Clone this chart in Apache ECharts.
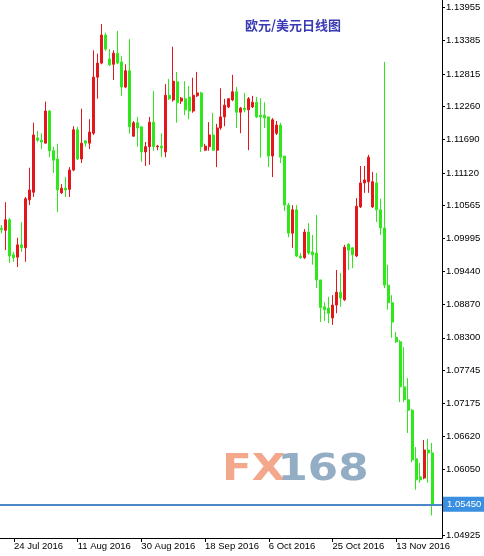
<!DOCTYPE html>
<html>
<head>
<meta charset="utf-8">
<style>
  html, body { margin: 0; padding: 0; background: #ffffff; }
  #chart { width: 484px; height: 556px; }
</style>
<script src="https://cdn.jsdelivr.net/npm/echarts@6/dist/echarts.min.js"></script>
</head>
<body>
<div id="chart"></div>
<script>
// ---- Data (EUR/USD daily) ----
const startDate = '2016-07-20'; // first bar (partial at left edge); broker shows Sunday bars, no Saturdays
const opens = [
  1.1017,1.1014,1.1032,1.0972,1.0968,1.0989,1.0984,1.1066,1.1079,1.1172,
  1.1168,1.1163,1.1218,1.1150,1.1136,1.1078,1.1086,1.1084,1.1117,1.1186,
  1.1136,1.1167,1.1163,1.1180,1.1276,1.1300,1.1348,1.1307,1.1298,1.1317,
  1.1302,1.1259,1.1287,1.1175,1.1198,1.1191,1.1148,1.1157,1.1199,1.1157,
  1.1158,1.1148,1.1245,1.1237,1.1268,1.1235,1.1239,1.1242,1.1218,1.1244,
  1.1249,1.1151,1.1157,1.1177,1.1151,1.1189,1.1208,1.1225,1.1237,1.1251,
  1.1216,1.1223,1.1220,1.1225,1.1233,1.1211,1.1211,1.1208,1.1141,1.1180,
  1.1194,1.1141,1.1057,1.1009,1.1049,1.0970,1.0967,1.1011,1.0977,1.0975,
  1.0929,1.0883,1.0881,1.0864,1.0886,1.0908,1.0895,1.0990,1.0984,1.0970,
  1.1054,1.1095,1.1097,1.1054,1.1095,1.1049,1.1018,1.0920,1.0890,1.0831,
  1.0823,1.0746,1.0724,1.0706,1.0623,1.0592,1.0590,1.0638,1.0633
];
const closes = [
  1.1015,1.1032,1.0970,1.0967,1.0989,1.0984,1.1068,1.1083,1.1177,1.1168,
  1.1165,1.1218,1.1150,1.1134,1.1083,1.1086,1.1083,1.1117,1.1186,1.1136,
  1.1163,1.1163,1.1182,1.1276,1.1300,1.1348,1.1324,1.1297,1.1317,1.1300,
  1.1259,1.1287,1.1191,1.1198,1.1189,1.1148,1.1157,1.1199,1.1157,1.1158,
  1.1155,1.1245,1.1239,1.1269,1.1232,1.1240,1.1220,1.1218,1.1245,1.1249,
  1.1157,1.1158,1.1177,1.1151,1.1189,1.1208,1.1228,1.1239,1.1251,1.1216,
  1.1223,1.1220,1.1239,1.1233,1.1208,1.1208,1.1206,1.1141,1.1203,1.1194,
  1.1139,1.1057,1.1009,1.1049,1.0970,1.0967,1.1011,1.0975,1.0972,1.0929,
  1.0882,1.0878,1.0872,1.0886,1.0908,1.0898,1.0985,1.0980,1.0972,1.1055,
  1.1095,1.1100,1.1139,1.1097,1.1049,1.1018,1.0920,1.0890,1.0857,1.0823,
  1.0746,1.0724,1.0706,1.0621,1.0587,1.0587,1.0638,1.0633,1.0545
];
const lows = [
  1.1009,1.0980,1.0958,1.0960,1.0951,1.0977,1.0960,1.1057,1.1071,1.1165,
  1.1153,1.1163,1.1139,1.1112,1.1045,1.1076,1.1071,1.1071,1.1115,1.1134,
  1.1129,1.1157,1.1153,1.1177,1.1239,1.1298,1.1321,1.1295,1.1271,1.1298,
  1.1244,1.1257,1.1179,1.1174,1.1157,1.1131,1.1124,1.1126,1.1150,1.1151,
  1.1139,1.1139,1.1237,1.1234,1.1198,1.1230,1.1211,1.1204,1.1215,1.1242,
  1.1148,1.1150,1.1150,1.1150,1.1122,1.1186,1.1192,1.1223,1.1235,1.1189,
  1.1180,1.1216,1.1151,1.1223,1.1206,1.1138,1.1189,1.1122,1.1105,1.1177,
  1.1129,1.1047,1.1002,1.0984,1.0968,1.0965,1.0965,1.0972,1.0955,1.0915,
  1.0857,1.0859,1.0855,1.0852,1.0872,1.0883,1.0893,1.0946,1.0949,1.0968,
  1.1052,1.1078,1.1078,1.1052,1.1028,1.1006,1.0915,1.0878,1.0830,1.0821,
  1.0720,1.0720,1.0667,1.0617,1.0570,1.0582,1.0588,1.0582,1.0526
];
const highs = [
  1.1023,1.1062,1.1035,1.0977,1.1001,1.1028,1.1071,1.1121,1.1198,1.1184,
  1.1180,1.1234,1.1220,1.1157,1.1162,1.1093,1.1105,1.1122,1.1192,1.1191,
  1.1222,1.1168,1.1204,1.1322,1.1316,1.1367,1.1352,1.1324,1.1322,1.1355,
  1.1312,1.1298,1.1341,1.1201,1.1208,1.1192,1.1165,1.1208,1.1252,1.1160,
  1.1180,1.1264,1.1273,1.1328,1.1285,1.1242,1.1269,1.1261,1.1275,1.1285,
  1.1251,1.1162,1.1199,1.1215,1.1196,1.1257,1.1239,1.1240,1.1280,1.1259,
  1.1225,1.1249,1.1242,1.1244,1.1242,1.1240,1.1233,1.1208,1.1206,1.1201,
  1.1198,1.1141,1.1061,1.1057,1.1057,1.0975,1.1016,1.1026,1.1006,1.1040,
  1.0929,1.0891,1.0900,1.0903,1.0946,1.0941,1.0989,1.0992,1.0985,1.1069,
  1.1124,1.1124,1.1143,1.1114,1.1112,1.1068,1.1302,1.0955,1.0903,1.0840,
  1.0826,1.0814,1.0761,1.0708,1.0643,1.0616,1.0655,1.0657,1.0650
];
const currentPrice = 1.05450;
const yTickValues = [1.04925,1.06050,1.06620,1.07175,1.07745,1.08300,1.08870,1.09440,
                     1.09995,1.10565,1.11120,1.11690,1.12260,1.12815,1.13385,1.13955];
const xTickLabels = ['24 Jul 2016','11 Aug 2016','30 Aug 2016','18 Sep 2016','6 Oct 2016','25 Oct 2016','13 Nov 2016'];
const titleText = '欧元/美元日线图';

// ---- Build categories (one per bar, skipping Saturdays) plus 2 empty right-shift slots ----
const MONTHS = ['Jan','Feb','Mar','Apr','May','Jun','Jul','Aug','Sep','Oct','Nov','Dec'];
const categories = [];
{
  const d = new Date(startDate + 'T12:00:00Z');
  while (categories.length < opens.length) {
    if (d.getUTCDay() !== 6) {
      categories.push(d.getUTCDate() + ' ' + MONTHS[d.getUTCMonth()] + ' ' + d.getUTCFullYear());
    }
    d.setUTCDate(d.getUTCDate() + 1);
  }
}
categories.push('', '');
const candleData = opens.map((o, i) => [o, closes[i], lows[i], highs[i]]);
const showTick = (idx, val) => xTickLabels.indexOf(val) >= 0;

const UP = '#e3161c', DOWN = '#2fe81c';
const font = 'Liberation Sans, Arial, sans-serif';

const chart = echarts.init(document.getElementById('chart'), null, { renderer: 'canvas' });
chart.setOption({
  animation: false,
  backgroundColor: '#ffffff',
  grid: { left: -1.5, right: 42, top: 0, bottom: 18, containLabel: false },
  xAxis: {
    type: 'category',
    data: categories,
    boundaryGap: true,
    axisLine: { show: true, lineStyle: { color: '#000', width: 1 } },
    axisTick: { show: true, interval: showTick, alignWithLabel: true, length: 4, lineStyle: { color: '#000' } },
    axisLabel: { show: true, interval: showTick, align: 'left', margin: 3, fontSize: 9.5, fontFamily: font, color: '#000' },
    splitLine: { show: false }
  },
  yAxis: {
    type: 'value',
    position: 'right',
    min: 1.04874,
    max: 1.14080,
    scale: true,
    axisLine: { show: true, lineStyle: { color: '#000', width: 1 } },
    axisTick: { show: true, length: 3, customValues: yTickValues, lineStyle: { color: '#000' } },
    axisLabel: { show: true, customValues: yTickValues, margin: 4, fontSize: 9.5, fontFamily: font, color: '#000',
                 formatter: v => Number(v).toFixed(5) },
    splitLine: { show: false }
  },
  series: [
    {
      type: 'candlestick',
      data: candleData,
      barWidth: 2.5,
      itemStyle: { color: UP, color0: DOWN, borderColor: UP, borderColor0: DOWN, borderWidth: 1 }
    },
    {
      type: 'line',
      data: categories.map(() => null),
      showSymbol: false,
      silent: true,
      markLine: {
        silent: true,
        symbol: 'none',
        precision: 5,
        lineStyle: { color: '#4a88c8', width: 2, type: 'solid' },
        label: {
          show: true, position: 'end', distance: 1,
          formatter: () => currentPrice.toFixed(5),
          backgroundColor: '#3a8fe0', color: '#ffffff', fontSize: 9.5, fontFamily: font,
          padding: [3, 4, 2, 4]
        },
        data: [{ yAxis: currentPrice }]
      }
    }
  ],
  graphic: [
    {
      type: 'text', left: 245, top: 19,
      style: { text: titleText, fontSize: 13, fontFamily: 'Noto Sans CJK SC', fill: '#3a3ab4', fontWeight: 'bold' }
    },
    {
      type: 'group', left: 222, top: 452, scaleX: 1.18,
      children: [
        { type: 'text', left: 0, top: 0,
          style: { text: 'FX', fontSize: 37, fontWeight: 'bold', fontFamily: 'DejaVu Sans', fill: '#f2a386', opacity: 0.95 } },
        { type: 'text', left: 47, top: 0,
          style: { text: '168', fontSize: 37, fontWeight: 'bold', fontFamily: 'DejaVu Sans', fill: '#8ca9c1', opacity: 0.95 } }
      ]
    }
  ]
});
</script>
</body>
</html>
